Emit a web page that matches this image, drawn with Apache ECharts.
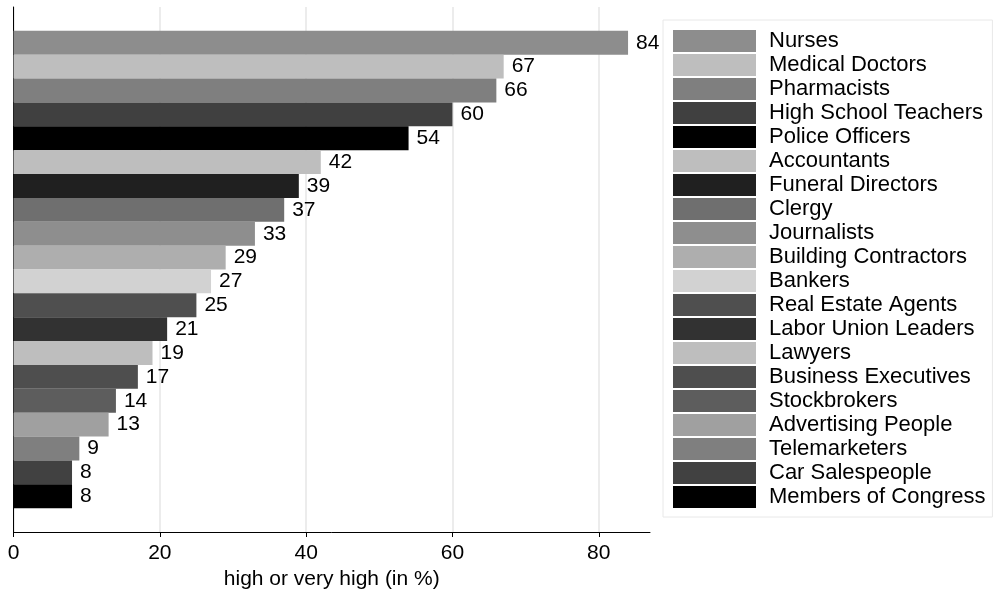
<!DOCTYPE html>
<html>
<head>
<meta charset="utf-8">
<script src="https://cdn.jsdelivr.net/npm/echarts@6/dist/echarts.min.js"></script>
<style>html,body{margin:0;padding:0;background:#fff}#c{width:995px;height:595px}</style>
</head>
<body>
<div id="c"></div>
<script>
var professions = ["Nurses","Medical Doctors","Pharmacists","High School Teachers","Police Officers","Accountants","Funeral Directors","Clergy","Journalists","Building Contractors","Bankers","Real Estate Agents","Labor Union Leaders","Lawyers","Business Executives","Stockbrokers","Advertising People","Telemarketers","Car Salespeople","Members of Congress"];
var values = [84,67,66,60,54,42,39,37,33,29,27,25,21,19,17,14,13,9,8,8];
var barColors = ["#8d8d8d","#bebebe","#7f7f7f","#404040","#000000","#bebebe","#202020","#6f6f6f","#8e8e8e","#aeaeae","#d2d2d2","#4f4f4f","#323232","#bebebe","#4e4e4e","#5d5d5d","#a0a0a0","#7f7f7f","#414141","#000000"];
var xTicks = [0,20,40,60,80];
var xTitle = "high or very high (in %)";

var FONT = "Liberation Sans, Arial, Helvetica, sans-serif";
var cats = [""].concat(professions).concat([" "]);
var series = professions.map(function(name, i){
  var d = cats.map(function(){ return '-'; });
  d[i+1] = values[i];
  return {
    name: name,
    type: 'bar',
    stack: 'all',
    barWidth: '100%',
    data: d,
    itemStyle: { color: barColors[i] },
    label: { show: true, position: 'right', distance: 8, color: '#000', fontSize: 21, fontFamily: FONT },
    emphasis: { disabled: true }
  };
});

var chart = echarts.init(document.getElementById('c'));
chart.setOption({
  animation: false,
  backgroundColor: '#fff',
  grid: { left: 13.5, right: 345, top: 7, bottom: 62, containLabel: false },
  xAxis: {
    type: 'value', min: 0, max: 87, interval: 20,
    name: xTitle, nameLocation: 'middle', nameGap: 37,
    nameTextStyle: { color: '#000', fontSize: 21, fontFamily: FONT },
    axisLine: { show: true, lineStyle: { color: '#000', width: 1 } },
    axisTick: { show: true, length: 5, lineStyle: { color: '#000' }, customValues: xTicks },
    axisLabel: { color: '#000', fontSize: 21, fontFamily: FONT, margin: 11, customValues: xTicks },
    splitLine: { show: true, lineStyle: { color: '#e6e6e6', width: 1.5 } }
  },
  yAxis: {
    type: 'category', data: cats, inverse: true,
    axisLine: { show: true, lineStyle: { color: '#000', width: 1 } },
    axisTick: { show: false }, axisLabel: { show: false }, splitLine: { show: false }
  },
  legend: {
    orient: 'vertical', left: 663, top: 20,
    padding: [10, 7, 9, 10],
    borderColor: '#e8e8e8', borderWidth: 1,
    icon: 'rect', itemWidth: 83, itemHeight: 22, itemGap: 2,
    textStyle: { color: '#000', fontSize: 22, lineHeight: 22, fontFamily: FONT, padding: [0,0,0,8] },
    selectedMode: false,
    data: professions
  },
  series: series
});
</script>
</body>
</html>
